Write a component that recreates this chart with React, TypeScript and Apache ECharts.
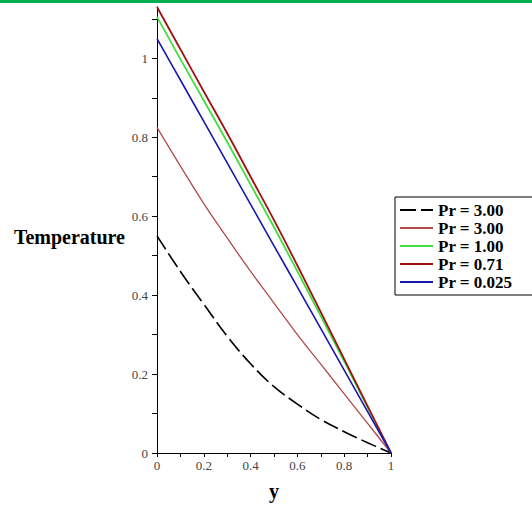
import React, { useEffect, useRef } from "react";
import * as echarts from "echarts";

const yPos = [0, 0.1, 0.2, 0.3, 0.4, 0.5, 0.6, 0.7, 0.8, 0.9, 1.0];
const seriesNames = ["Pr = 3.00", "Pr = 3.00\u200b", "Pr = 1.00", "Pr = 0.71", "Pr = 0.025"];
const tempPr300Dashed = [0.55, 0.46, 0.377, 0.296, 0.226, 0.168, 0.124, 0.085, 0.054, 0.026, 0];
const tempPr300 = [0.825, 0.727, 0.632, 0.545, 0.46, 0.38, 0.3, 0.225, 0.15, 0.075, 0];
const tempPr100 = [1.105, 0.998, 0.893, 0.788, 0.68, 0.572, 0.46, 0.347, 0.232, 0.116, 0];
const tempPr071 = [1.13, 1.023, 0.916, 0.81, 0.7, 0.59, 0.475, 0.357, 0.238, 0.119, 0];
const tempPr0025 = [1.05, 0.945, 0.84, 0.735, 0.63, 0.525, 0.42, 0.315, 0.21, 0.105, 0];
const yTickValues = [0, 0.1, 0.2, 0.3, 0.4, 0.5, 0.6, 0.7, 0.8, 0.9, 1.0, 1.1];
const yLabelValues = [0, 0.2, 0.4, 0.6, 0.8, 1];

const serif = "Liberation Serif, Times New Roman, serif";

export default function App() {
  const ref = useRef<HTMLDivElement>(null);
  useEffect(() => {
    if (!ref.current) return;
    const chart = echarts.init(ref.current, null, { renderer: "svg" });
    const mk = (vals: number[]) => yPos.map((x, i) => [x, vals[i]]);
    const styles = [
      { color: "#000000", type: [16, 5] as any, width: 1.6 },
      { color: "#b24a4a", type: "solid", width: 1.3 },
      { color: "#3ee03e", type: "solid", width: 1.8 },
      { color: "#a01212", type: "solid", width: 1.8 },
      { color: "#1818b0", type: "solid", width: 1.6 },
    ];
    const datas = [tempPr300Dashed, tempPr300, tempPr100, tempPr071, tempPr0025];
    chart.setOption({
      animation: false,
      backgroundColor: "#ffffff",
      graphic: [
        { type: "rect", left: 0, top: 0, shape: { width: 532, height: 3 }, style: { fill: "#00b050" }, z: 10 },
        {
          type: "text",
          x: 125,
          y: 237,
          style: {
            text: "Temperature",
            fontFamily: serif,
            fontWeight: "bold",
            fontSize: 20,
            fill: "#000",
            align: "right",
            verticalAlign: "middle",
          },
        },
      ],
      grid: { left: 157, right: 141, top: 7, bottom: 48, containLabel: false },
      legend: {
        orient: "vertical",
        left: 395,
        top: 197,
        borderColor: "#000",
        borderWidth: 1,
        padding: [4, 60, 4, 4],
        itemGap: 0,
        itemWidth: 33,
        itemHeight: 14,
        itemStyle: { opacity: 0 },
        textStyle: { fontFamily: serif, fontWeight: "bold", fontSize: 17, lineHeight: 18, color: "#000" },
        data: seriesNames,
      },
      xAxis: {
        type: "value",
        min: 0,
        max: 1,
        interval: 0.1,
        name: "y",
        nameLocation: "middle",
        nameGap: 28,
        nameTextStyle: { fontFamily: serif, fontWeight: "bold", fontSize: 20, color: "#000" },
        axisLine: { show: true, onZero: false, lineStyle: { color: "#000", width: 1 } },
        axisTick: { show: true, length: 4, lineStyle: { color: "#000" } },
        axisLabel: {
          margin: 6,
          fontFamily: serif,
          fontSize: 13,
          color: "#444",
          formatter: (v: number) => (Math.round(v * 10) % 2 === 0 ? String(+v.toFixed(1)) : ""),
        },
        splitLine: { show: false },
      },
      yAxis: {
        type: "value",
        min: 0,
        max: 1.13,
        axisLine: { show: true, onZero: false, lineStyle: { color: "#000", width: 1 } },
        axisTick: { show: true, length: 5, lineStyle: { color: "#000" }, customValues: yTickValues },
        axisLabel: {
          margin: 9,
          fontFamily: serif,
          fontSize: 13,
          color: "#444",
          customValues: yLabelValues,
          formatter: (v: number) => String(+v.toFixed(1)),
        },
        splitLine: { show: false },
      },
      series: datas.map((d, i) => ({
        type: "line",
        name: seriesNames[i],
        data: mk(d),
        smooth: 0.4,
        symbol: "none",
        showSymbol: false,
        color: styles[i].color,
        lineStyle: styles[i],
      })),
    });
    return () => chart.dispose();
  }, []);
  return <div ref={ref} style={{ position: "fixed", left: 0, top: 0, width: 532, height: 506 }} />;
}
